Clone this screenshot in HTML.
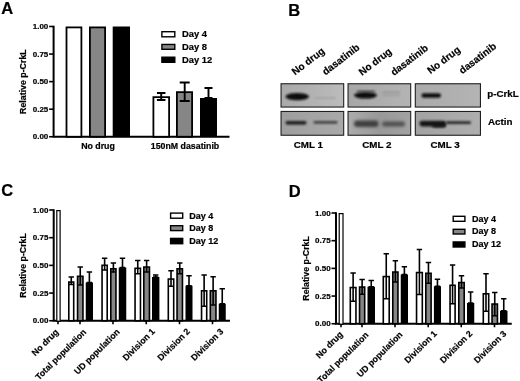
<!DOCTYPE html>
<html lang="en"><head><meta charset="utf-8"><title>Figure</title>
<style>
html,body{margin:0;padding:0;background:#fff;}
body{width:520px;height:381px;overflow:hidden;}
svg{display:block;will-change:transform;font-family:'Liberation Sans', Arial, sans-serif;fill:#000;}
text{stroke:#000;stroke-width:0.2px;}
</style></head><body>
<svg width="520" height="381" viewBox="0 0 520 381">
<rect width="520" height="381" fill="#fff"/>
<text x="1.30" y="14.30" font-size="16.5" font-weight="bold" text-anchor="start">A</text>
<path d="M53.60 25.80V136.75H229.50" stroke="#000" stroke-width="2" fill="none"/>
<path d="M49.10 26.50H53.60" stroke="#000" stroke-width="1.6"/>
<text x="48.30" y="29.20" font-size="8.0" font-weight="bold" text-anchor="end">1.00</text>
<path d="M49.10 54.06H53.60" stroke="#000" stroke-width="1.6"/>
<text x="48.30" y="56.76" font-size="8.0" font-weight="bold" text-anchor="end">0.75</text>
<path d="M49.10 81.62H53.60" stroke="#000" stroke-width="1.6"/>
<text x="48.30" y="84.33" font-size="8.0" font-weight="bold" text-anchor="end">0.50</text>
<path d="M49.10 109.19H53.60" stroke="#000" stroke-width="1.6"/>
<text x="48.30" y="111.89" font-size="8.0" font-weight="bold" text-anchor="end">0.25</text>
<path d="M49.10 136.75H53.60" stroke="#000" stroke-width="1.6"/>
<text x="48.30" y="139.45" font-size="8.0" font-weight="bold" text-anchor="end">0.00</text>
<text x="26.00" y="81.62" font-size="8.8" font-weight="bold" text-anchor="middle" transform="rotate(-90 26.00 81.62)">Relative p-CrkL</text>
<rect x="66.50" y="27.40" width="14.90" height="109.35" fill="#fff" stroke="#000" stroke-width="1.8"/>
<rect x="89.90" y="27.40" width="15.20" height="109.35" fill="#868686" stroke="#000" stroke-width="1.8"/>
<rect x="112.70" y="26.50" width="17.30" height="110.25" fill="#000"/>
<rect x="153.40" y="97.15" width="15.70" height="39.60" fill="#fff" stroke="#000" stroke-width="1.8"/>
<path d="M161.20 93.00V100.00M156.95 93.00H165.45M156.95 100.00H165.45" stroke="#000" stroke-width="1.9" fill="none"/>
<rect x="176.90" y="92.15" width="15.20" height="44.60" fill="#868686" stroke="#000" stroke-width="1.8"/>
<path d="M184.70 82.50V101.00M179.70 82.50H189.70M179.70 101.00H189.70" stroke="#000" stroke-width="1.9" fill="none"/>
<rect x="200.00" y="98.00" width="17.00" height="38.75" fill="#000"/>
<path d="M208.50 88.00V98.00M204.50 88.00H212.50M204.50 98.00H212.50" stroke="#000" stroke-width="1.9" fill="none"/>
<text x="98.00" y="149.30" font-size="8.8" font-weight="bold" text-anchor="middle">No drug</text>
<text x="185.00" y="149.30" font-size="8.8" font-weight="bold" text-anchor="middle">150nM dasatinib</text>
<rect x="161.90" y="31.70" width="12.90" height="5.10" fill="#fff" stroke="#000" stroke-width="1.4"/>
<text x="182.00" y="37.20" font-size="9.4" font-weight="bold" text-anchor="start">Day 4</text>
<rect x="161.90" y="44.45" width="12.90" height="4.85" fill="#868686" stroke="#000" stroke-width="1.4"/>
<text x="182.00" y="49.70" font-size="9.4" font-weight="bold" text-anchor="start">Day 8</text>
<rect x="161.90" y="57.20" width="12.90" height="5.10" fill="#000" stroke="#000" stroke-width="1.4"/>
<text x="182.00" y="62.70" font-size="9.4" font-weight="bold" text-anchor="start">Day 12</text>
<text x="288.30" y="16.20" font-size="16.5" font-weight="bold" text-anchor="start">B</text>
<defs>
<filter id="b1" x="-20%" y="-80%" width="140%" height="260%"><feGaussianBlur stdDeviation="1.1"/></filter>
<filter id="b2" x="-20%" y="-80%" width="140%" height="260%"><feGaussianBlur stdDeviation="1.6"/></filter>
<linearGradient id="g1" x1="0" x2="1"><stop offset="0" stop-color="#a9a9a9"/><stop offset="0.5" stop-color="#b2b2b2"/><stop offset="1" stop-color="#bcbcbc"/></linearGradient>
<linearGradient id="g2" x1="0" x2="1"><stop offset="0" stop-color="#9e9e9e"/><stop offset="1" stop-color="#a9a9a9"/></linearGradient>
<linearGradient id="g3" x1="0" x2="1"><stop offset="0" stop-color="#a6a6a6"/><stop offset="1" stop-color="#b4b4b4"/></linearGradient>
<linearGradient id="g4" x1="0" x2="1"><stop offset="0" stop-color="#acacac"/><stop offset="0.5" stop-color="#989898"/><stop offset="1" stop-color="#a2a2a2"/></linearGradient>
<linearGradient id="g5" x1="0" x2="1"><stop offset="0" stop-color="#aaaaaa"/><stop offset="1" stop-color="#b4b4b4"/></linearGradient>
<linearGradient id="g6" x1="0" x2="1"><stop offset="0" stop-color="#a2a2a2"/><stop offset="1" stop-color="#aeaeae"/></linearGradient>
</defs>
<rect x="281.05" y="83.75" width="62.65" height="23.29999999999999" fill="url(#g1)" stroke="#202020" stroke-width="1.1"/>
<rect x="281.05" y="111.45" width="62.65" height="23.800000000000004" fill="url(#g2)" stroke="#202020" stroke-width="1.1"/>
<rect x="348.05" y="83.75" width="62.65" height="23.29999999999999" fill="url(#g3)" stroke="#202020" stroke-width="1.1"/>
<rect x="348.05" y="111.45" width="62.65" height="23.800000000000004" fill="url(#g4)" stroke="#202020" stroke-width="1.1"/>
<rect x="415.3" y="83.75" width="65.15" height="23.29999999999999" fill="url(#g5)" stroke="#202020" stroke-width="1.1"/>
<rect x="415.3" y="111.45" width="65.15" height="23.800000000000004" fill="url(#g6)" stroke="#202020" stroke-width="1.1"/>
<ellipse cx="297.2" cy="96.6" rx="11.8" ry="3.6" fill="#0c0c0c" opacity="1" filter="url(#b1)"/>
<rect x="315" y="97.3" width="21" height="1.4000000000000057" rx="0.7000000000000028" fill="#989898" opacity="0.7" filter="url(#b1)"/>
<rect x="285.5" y="121" width="21.0" height="3.4000000000000057" rx="1.7000000000000028" fill="#1c1c1c" opacity="1" filter="url(#b1)"/>
<rect x="313.5" y="120.9" width="24.0" height="2.799999999999997" rx="1.3999999999999986" fill="#383838" opacity="0.9" filter="url(#b1)"/>
<ellipse cx="365.5" cy="95.3" rx="11.5" ry="3.3" fill="#0c0c0c" opacity="1" filter="url(#b1)"/>
<rect x="357" y="90.6" width="18" height="1.8000000000000114" rx="0.9000000000000057" fill="#333" opacity="0.8" filter="url(#b1)"/>
<rect x="382" y="91.5" width="18" height="1.5" rx="0.75" fill="#8c8c8c" opacity="0.8" filter="url(#b1)"/>
<rect x="382" y="94.5" width="18" height="1.5" rx="0.75" fill="#939393" opacity="0.7" filter="url(#b1)"/>
<rect x="354" y="120.5" width="24.5" height="6.5" rx="3.25" fill="#3c3c3c" opacity="1" filter="url(#b2)"/>
<rect x="382" y="121.5" width="23" height="5.0" rx="2.5" fill="#505050" opacity="1" filter="url(#b2)"/>
<rect x="421.5" y="93.2" width="19.5" height="4.599999999999994" rx="2.299999999999997" fill="#0e0e0e" opacity="1" filter="url(#b1)"/>
<rect x="419.5" y="120.8" width="26.5" height="5.6000000000000085" rx="2.8000000000000043" fill="#181818" opacity="1" filter="url(#b1)"/>
<rect x="432" y="123" width="14" height="4.599999999999994" rx="2.299999999999997" fill="#181818" opacity="1" filter="url(#b1)"/>
<rect x="446" y="121.3" width="25" height="2.700000000000003" rx="1.3500000000000014" fill="#262626" opacity="1" filter="url(#b1)"/>
<text x="308.30" y="148.30" font-size="9.8" font-weight="bold" text-anchor="middle">CML 1</text>
<text x="376.80" y="148.30" font-size="9.8" font-weight="bold" text-anchor="middle">CML 2</text>
<text x="445.00" y="148.30" font-size="9.8" font-weight="bold" text-anchor="middle">CML 3</text>
<text x="487.20" y="97.00" font-size="9.8" font-weight="bold" text-anchor="start">p-CrkL</text>
<text x="488.00" y="125.00" font-size="9.8" font-weight="bold" text-anchor="start">Actin</text>
<text x="295.00" y="75.60" font-size="10" font-weight="bold" text-anchor="start" transform="rotate(-37.5 295.00 75.60)">No drug</text>
<text x="325.50" y="75.40" font-size="10" font-weight="bold" text-anchor="start" transform="rotate(-37.5 325.50 75.40)">dasatinib</text>
<text x="362.00" y="76.00" font-size="10" font-weight="bold" text-anchor="start" transform="rotate(-37.5 362.00 76.00)">No drug</text>
<text x="394.00" y="76.00" font-size="10" font-weight="bold" text-anchor="start" transform="rotate(-37.5 394.00 76.00)">dasatinib</text>
<text x="430.60" y="74.30" font-size="10" font-weight="bold" text-anchor="start" transform="rotate(-37.5 430.60 74.30)">No drug</text>
<text x="462.30" y="74.30" font-size="10" font-weight="bold" text-anchor="start" transform="rotate(-37.5 462.30 74.30)">dasatinib</text>
<text x="1.30" y="196.20" font-size="16.5" font-weight="bold" text-anchor="start">C</text>
<path d="M53.70 209.30V320.75H230.00" stroke="#000" stroke-width="2" fill="none"/>
<path d="M49.20 210.00H53.70" stroke="#000" stroke-width="1.6"/>
<text x="48.40" y="212.70" font-size="8.0" font-weight="bold" text-anchor="end">1.00</text>
<path d="M49.20 237.69H53.70" stroke="#000" stroke-width="1.6"/>
<text x="48.40" y="240.39" font-size="8.0" font-weight="bold" text-anchor="end">0.75</text>
<path d="M49.20 265.38H53.70" stroke="#000" stroke-width="1.6"/>
<text x="48.40" y="268.07" font-size="8.0" font-weight="bold" text-anchor="end">0.50</text>
<path d="M49.20 293.06H53.70" stroke="#000" stroke-width="1.6"/>
<text x="48.40" y="295.76" font-size="8.0" font-weight="bold" text-anchor="end">0.25</text>
<path d="M49.20 320.75H53.70" stroke="#000" stroke-width="1.6"/>
<text x="48.40" y="323.45" font-size="8.0" font-weight="bold" text-anchor="end">0.00</text>
<text x="26.00" y="265.38" font-size="8.8" font-weight="bold" text-anchor="middle" transform="rotate(-90 26.00 265.38)">Relative p-CrkL</text>
<rect x="56.80" y="210.60" width="3.30" height="110.75" fill="#fff" stroke="#000" stroke-width="1.2"/>
<path d="M58.00 320.75V324.25" stroke="#000" stroke-width="1.6"/>
<path d="M80.00 320.75V324.25" stroke="#000" stroke-width="1.6"/>
<path d="M113.00 320.75V324.25" stroke="#000" stroke-width="1.6"/>
<path d="M146.25 320.75V324.25" stroke="#000" stroke-width="1.6"/>
<path d="M179.50 320.75V324.25" stroke="#000" stroke-width="1.6"/>
<path d="M212.50 320.75V324.25" stroke="#000" stroke-width="1.6"/>
<rect x="68.80" y="282.05" width="4.90" height="38.70" fill="#fff" stroke="#000" stroke-width="1.6"/>
<path d="M71.25 277.00V284.50M68.55 277.00H73.95M68.55 284.50H73.95" stroke="#000" stroke-width="1.6" fill="none"/>
<rect x="77.55" y="276.30" width="5.40" height="44.45" fill="#868686" stroke="#000" stroke-width="1.6"/>
<path d="M80.25 267.00V285.00M77.55 267.00H82.95M77.55 285.00H82.95" stroke="#000" stroke-width="1.6" fill="none"/>
<rect x="85.75" y="282.50" width="7.25" height="38.25" fill="#000"/>
<path d="M89.38 272.00V282.50M86.67 272.00H92.08M86.67 282.50H92.08" stroke="#000" stroke-width="1.6" fill="none"/>
<rect x="102.05" y="265.30" width="5.15" height="55.45" fill="#fff" stroke="#000" stroke-width="1.6"/>
<path d="M104.62 258.25V270.00M101.92 258.25H107.33M101.92 270.00H107.33" stroke="#000" stroke-width="1.6" fill="none"/>
<rect x="110.80" y="268.80" width="5.15" height="51.95" fill="#868686" stroke="#000" stroke-width="1.6"/>
<path d="M113.38 263.00V272.00M110.67 263.00H116.08M110.67 272.00H116.08" stroke="#000" stroke-width="1.6" fill="none"/>
<rect x="118.75" y="267.50" width="7.50" height="53.25" fill="#000"/>
<path d="M122.50 258.25V267.50M119.80 258.25H125.20M119.80 267.50H125.20" stroke="#000" stroke-width="1.6" fill="none"/>
<rect x="135.05" y="268.30" width="5.40" height="52.45" fill="#fff" stroke="#000" stroke-width="1.6"/>
<path d="M137.75 260.50V273.75M135.05 260.50H140.45M135.05 273.75H140.45" stroke="#000" stroke-width="1.6" fill="none"/>
<rect x="143.80" y="267.05" width="5.65" height="53.70" fill="#868686" stroke="#000" stroke-width="1.6"/>
<path d="M146.62 260.50V272.00M143.93 260.50H149.32M143.93 272.00H149.32" stroke="#000" stroke-width="1.6" fill="none"/>
<rect x="152.00" y="277.00" width="7.40" height="43.75" fill="#000"/>
<path d="M155.70 275.00V277.00M153.00 275.00H158.40M153.00 277.00H158.40" stroke="#000" stroke-width="1.6" fill="none"/>
<rect x="168.30" y="279.05" width="5.40" height="41.70" fill="#fff" stroke="#000" stroke-width="1.6"/>
<path d="M171.00 270.75V286.25M168.30 270.75H173.70M168.30 286.25H173.70" stroke="#000" stroke-width="1.6" fill="none"/>
<rect x="177.05" y="268.80" width="5.40" height="51.95" fill="#868686" stroke="#000" stroke-width="1.6"/>
<path d="M179.75 263.00V273.75M177.05 263.00H182.45M177.05 273.75H182.45" stroke="#000" stroke-width="1.6" fill="none"/>
<rect x="185.50" y="285.75" width="7.00" height="35.00" fill="#000"/>
<path d="M189.00 275.75V285.75M186.30 275.75H191.70M186.30 285.75H191.70" stroke="#000" stroke-width="1.6" fill="none"/>
<rect x="201.55" y="290.80" width="5.15" height="29.95" fill="#fff" stroke="#000" stroke-width="1.6"/>
<path d="M204.12 275.00V306.25M201.43 275.00H206.82M201.43 306.25H206.82" stroke="#000" stroke-width="1.6" fill="none"/>
<rect x="210.30" y="290.80" width="5.65" height="29.95" fill="#868686" stroke="#000" stroke-width="1.6"/>
<path d="M213.12 276.75V305.00M210.43 276.75H215.82M210.43 305.00H215.82" stroke="#000" stroke-width="1.6" fill="none"/>
<rect x="218.75" y="303.75" width="7.00" height="17.00" fill="#000"/>
<path d="M222.25 288.75V303.75M219.55 288.75H224.95M219.55 303.75H224.95" stroke="#000" stroke-width="1.6" fill="none"/>
<text x="59.10" y="332.75" font-size="8.8" font-weight="bold" text-anchor="end" transform="rotate(-45 59.10 332.75)">No drug</text>
<text x="86.90" y="332.65" font-size="8.8" font-weight="bold" text-anchor="end" transform="rotate(-45 86.90 332.65)">Total population</text>
<text x="120.25" y="332.50" font-size="8.8" font-weight="bold" text-anchor="end" transform="rotate(-45 120.25 332.50)">UD population</text>
<text x="155.55" y="331.95" font-size="8.8" font-weight="bold" text-anchor="end" transform="rotate(-45 155.55 331.95)">Division 1</text>
<text x="190.50" y="331.95" font-size="8.8" font-weight="bold" text-anchor="end" transform="rotate(-45 190.50 331.95)">Division 2</text>
<text x="224.00" y="331.95" font-size="8.8" font-weight="bold" text-anchor="end" transform="rotate(-45 224.00 331.95)">Division 3</text>
<rect x="170.60" y="213.10" width="12.10" height="5.10" fill="#fff" stroke="#000" stroke-width="1.4"/>
<text x="189.20" y="218.60" font-size="9.0" font-weight="bold" text-anchor="start">Day 4</text>
<rect x="170.60" y="225.70" width="12.10" height="4.90" fill="#868686" stroke="#000" stroke-width="1.4"/>
<text x="189.20" y="231.00" font-size="9.0" font-weight="bold" text-anchor="start">Day 8</text>
<rect x="170.60" y="238.40" width="12.10" height="5.30" fill="#000" stroke="#000" stroke-width="1.4"/>
<text x="189.20" y="244.10" font-size="9.0" font-weight="bold" text-anchor="start">Day 12</text>
<text x="288.80" y="196.80" font-size="16.5" font-weight="bold" text-anchor="start">D</text>
<path d="M336.00 212.30V323.75H511.75" stroke="#000" stroke-width="2" fill="none"/>
<path d="M331.50 213.00H336.00" stroke="#000" stroke-width="1.6"/>
<text x="330.70" y="215.70" font-size="8.0" font-weight="bold" text-anchor="end">1.00</text>
<path d="M331.50 240.69H336.00" stroke="#000" stroke-width="1.6"/>
<text x="330.70" y="243.39" font-size="8.0" font-weight="bold" text-anchor="end">0.75</text>
<path d="M331.50 268.38H336.00" stroke="#000" stroke-width="1.6"/>
<text x="330.70" y="271.07" font-size="8.0" font-weight="bold" text-anchor="end">0.50</text>
<path d="M331.50 296.06H336.00" stroke="#000" stroke-width="1.6"/>
<text x="330.70" y="298.76" font-size="8.0" font-weight="bold" text-anchor="end">0.25</text>
<path d="M331.50 323.75H336.00" stroke="#000" stroke-width="1.6"/>
<text x="330.70" y="326.45" font-size="8.0" font-weight="bold" text-anchor="end">0.00</text>
<text x="309.50" y="268.38" font-size="8.8" font-weight="bold" text-anchor="middle" transform="rotate(-90 309.50 268.38)">Relative p-CrkL</text>
<rect x="339.20" y="213.60" width="3.80" height="110.75" fill="#fff" stroke="#000" stroke-width="1.2"/>
<path d="M341.00 323.75V327.25" stroke="#000" stroke-width="1.6"/>
<path d="M362.00 323.75V327.25" stroke="#000" stroke-width="1.6"/>
<path d="M395.00 323.75V327.25" stroke="#000" stroke-width="1.6"/>
<path d="M428.20 323.75V327.25" stroke="#000" stroke-width="1.6"/>
<path d="M461.25 323.75V327.25" stroke="#000" stroke-width="1.6"/>
<path d="M494.50 323.75V327.25" stroke="#000" stroke-width="1.6"/>
<rect x="350.30" y="287.55" width="5.65" height="36.20" fill="#fff" stroke="#000" stroke-width="1.6"/>
<path d="M353.12 273.00V301.25M350.43 273.00H355.82M350.43 301.25H355.82" stroke="#000" stroke-width="1.6" fill="none"/>
<rect x="359.55" y="287.05" width="5.15" height="36.70" fill="#868686" stroke="#000" stroke-width="1.6"/>
<path d="M362.12 279.50V294.25M359.43 279.50H364.82M359.43 294.25H364.82" stroke="#000" stroke-width="1.6" fill="none"/>
<rect x="367.50" y="286.75" width="7.50" height="37.00" fill="#000"/>
<path d="M371.25 280.50V286.75M368.55 280.50H373.95M368.55 286.75H373.95" stroke="#000" stroke-width="1.6" fill="none"/>
<rect x="383.30" y="276.55" width="5.90" height="47.20" fill="#fff" stroke="#000" stroke-width="1.6"/>
<path d="M386.25 253.75V298.75M383.55 253.75H388.95M383.55 298.75H388.95" stroke="#000" stroke-width="1.6" fill="none"/>
<rect x="392.80" y="272.05" width="5.15" height="51.70" fill="#868686" stroke="#000" stroke-width="1.6"/>
<path d="M395.38 260.75V282.00M392.68 260.75H398.07M392.68 282.00H398.07" stroke="#000" stroke-width="1.6" fill="none"/>
<rect x="400.75" y="274.50" width="7.25" height="49.25" fill="#000"/>
<path d="M404.38 266.75V274.50M401.68 266.75H407.07M401.68 274.50H407.07" stroke="#000" stroke-width="1.6" fill="none"/>
<rect x="416.55" y="272.55" width="5.75" height="51.20" fill="#fff" stroke="#000" stroke-width="1.6"/>
<path d="M419.43 249.50V294.50M416.73 249.50H422.12M416.73 294.50H422.12" stroke="#000" stroke-width="1.6" fill="none"/>
<rect x="425.80" y="273.30" width="5.30" height="50.45" fill="#868686" stroke="#000" stroke-width="1.6"/>
<path d="M428.45 262.50V283.25M425.75 262.50H431.15M425.75 283.25H431.15" stroke="#000" stroke-width="1.6" fill="none"/>
<rect x="433.90" y="286.25" width="7.10" height="37.50" fill="#000"/>
<path d="M437.45 279.25V286.25M434.75 279.25H440.15M434.75 286.25H440.15" stroke="#000" stroke-width="1.6" fill="none"/>
<rect x="450.05" y="285.30" width="5.05" height="38.45" fill="#fff" stroke="#000" stroke-width="1.6"/>
<path d="M452.57 265.00V303.75M449.88 265.00H455.27M449.88 303.75H455.27" stroke="#000" stroke-width="1.6" fill="none"/>
<rect x="458.80" y="282.55" width="5.40" height="41.20" fill="#868686" stroke="#000" stroke-width="1.6"/>
<path d="M461.50 275.75V288.00M458.80 275.75H464.20M458.80 288.00H464.20" stroke="#000" stroke-width="1.6" fill="none"/>
<rect x="467.00" y="303.00" width="7.25" height="20.75" fill="#000"/>
<path d="M470.62 292.00V303.00M467.93 292.00H473.32M467.93 303.00H473.32" stroke="#000" stroke-width="1.6" fill="none"/>
<rect x="483.30" y="293.80" width="5.40" height="29.95" fill="#fff" stroke="#000" stroke-width="1.6"/>
<path d="M486.00 273.75V311.25M483.30 273.75H488.70M483.30 311.25H488.70" stroke="#000" stroke-width="1.6" fill="none"/>
<rect x="492.05" y="304.05" width="5.40" height="19.70" fill="#868686" stroke="#000" stroke-width="1.6"/>
<path d="M494.75 292.50V315.75M492.05 292.50H497.45M492.05 315.75H497.45" stroke="#000" stroke-width="1.6" fill="none"/>
<rect x="500.00" y="310.75" width="7.50" height="13.00" fill="#000"/>
<path d="M503.75 298.75V310.75M501.05 298.75H506.45M501.05 310.75H506.45" stroke="#000" stroke-width="1.6" fill="none"/>
<text x="343.30" y="335.05" font-size="8.8" font-weight="bold" text-anchor="end" transform="rotate(-45 343.30 335.05)">No drug</text>
<text x="369.00" y="335.55" font-size="8.8" font-weight="bold" text-anchor="end" transform="rotate(-45 369.00 335.55)">Total population</text>
<text x="403.10" y="335.25" font-size="8.8" font-weight="bold" text-anchor="end" transform="rotate(-45 403.10 335.25)">UD population</text>
<text x="437.40" y="334.25" font-size="8.8" font-weight="bold" text-anchor="end" transform="rotate(-45 437.40 334.25)">Division 1</text>
<text x="472.85" y="334.25" font-size="8.8" font-weight="bold" text-anchor="end" transform="rotate(-45 472.85 334.25)">Division 2</text>
<text x="506.90" y="334.25" font-size="8.8" font-weight="bold" text-anchor="end" transform="rotate(-45 506.90 334.25)">Division 3</text>
<rect x="453.20" y="216.30" width="11.70" height="5.00" fill="#fff" stroke="#000" stroke-width="1.4"/>
<text x="472.00" y="221.70" font-size="9.0" font-weight="bold" text-anchor="start">Day 4</text>
<rect x="453.20" y="229.30" width="11.70" height="4.70" fill="#868686" stroke="#000" stroke-width="1.4"/>
<text x="472.00" y="234.40" font-size="9.0" font-weight="bold" text-anchor="start">Day 8</text>
<rect x="453.20" y="241.95" width="11.70" height="5.05" fill="#000" stroke="#000" stroke-width="1.4"/>
<text x="472.00" y="247.40" font-size="9.0" font-weight="bold" text-anchor="start">Day 12</text>
</svg>
</body></html>
